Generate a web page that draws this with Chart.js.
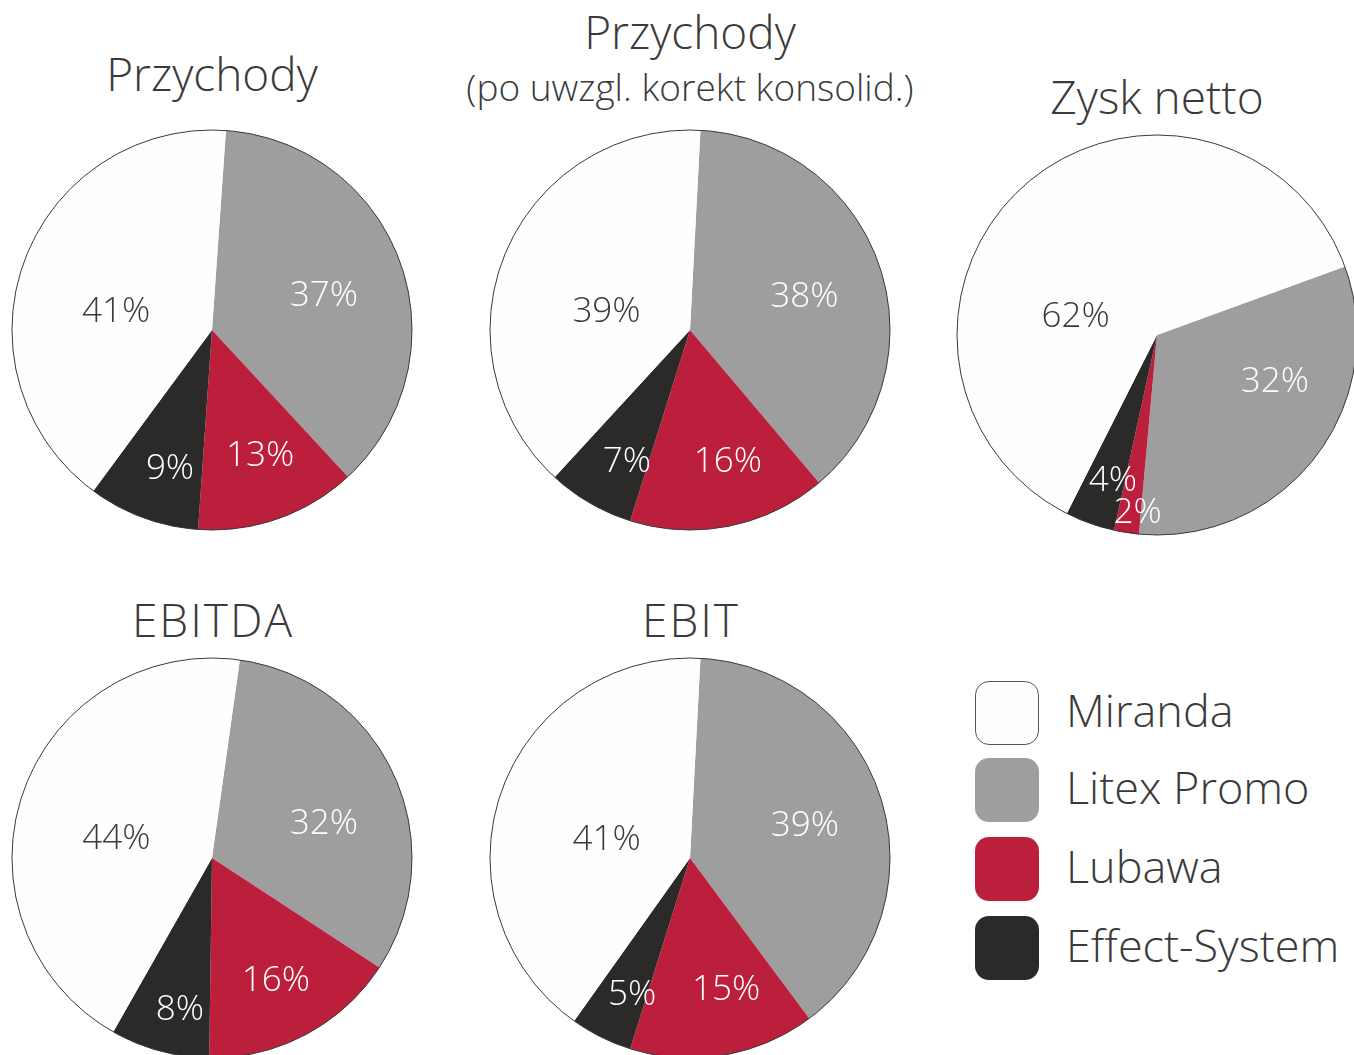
<!DOCTYPE html>
<html>
<head>
<meta charset="utf-8">
<title>Struktura grupy</title>
<script src="https://cdn.jsdelivr.net/npm/chart.js@4.4.1/dist/chart.umd.min.js"></script>
<style>
    html, body { margin: 0; padding: 0; background: #fff; }
    body {
        width: 1354px; height: 1055px; position: relative; overflow: hidden;
        font-family: "Open Sans", "Noto Sans", sans-serif; font-weight: 300; color: #3a3a3a;
    }
    .pie { position: absolute; width: 404px; height: 404px; }
    .title { position: absolute; width: 600px; text-align: center; line-height: 1; white-space: nowrap; }
    .legend-box { position: absolute; width: 64px; height: 64px; border-radius: 14px; box-sizing: border-box; }
    .legend-text { position: absolute; line-height: 1; white-space: nowrap; font-size: 45px; }
</style>
</head>
<body>
<div id="stage"></div>
<script>
// Data
const companies = ['Miranda', 'Litex Promo', 'Lubawa', 'Effect-System'];
const chartTitles = ['Przychody', 'Przychody', 'Zysk netto', 'EBITDA', 'EBIT'];
const chartSubtitles = ['', '(po uwzgl. korekt konsolid.)', '', '', ''];
const miranda = [41, 39, 62, 44, 41];
const litexPromo = [37, 38, 32, 32, 39];
const lubawa = [13, 16, 2, 16, 15];
const effectSystem = [9, 7, 4, 8, 5];

// Colours, in company order
const companyColors = ['#fefefe', '#9d9e9d', '#bb1f3c', '#2b2a29'];
const labelColors = ['#3a3a3a', '#ffffff', '#ffffff', '#ffffff'];

// Where each pie sits and how its labels are nudged (slices drawn Litex, Lubawa, Effect, Miranda)
const pieLayout = [
    { cx: 212, cy: 330, start: 4, titleBase: 91, spacing: 0, place: [[0.59, 1], [0.66, -2], [0.71, -3], [0.49, -8]] },
    { cx: 690, cy: 330, start: 3, titleBase: 49, subBase: 101, spacing: 0, place: [[0.60, 1], [0.67, -5], [0.72, -4], [0.43, -9]] },
    { cx: 1157, cy: 335, start: 70, titleBase: 114, spacing: 0, place: [[0.63, -17], [0.88, -2.5], [0.75, -2.5], [0.42, -34]] },
    { cx: 212, cy: 858, start: 8, titleBase: 637, spacing: 2, place: [[0.59, 6], [0.68, 0], [0.76, -3], [0.49, -6]] },
    { cx: 690, cy: 858, start: 3, titleBase: 637, spacing: 2, place: [[0.60, 0], [0.67, -6], [0.73, -3], [0.43, -5]] }
];

const stage = document.getElementById('stage');

// Thin outline round the whole pie (no lines between slices)
const outlinePlugin = {
    id: 'outline',
    afterDatasetsDraw(chart) {
        const arc = chart.getDatasetMeta(0).data[0];
        if (!arc) return;
        const ctx = chart.ctx;
        ctx.save();
        ctx.beginPath();
        ctx.arc(arc.x, arc.y, arc.outerRadius, 0, Math.PI * 2);
        ctx.strokeStyle = '#3a3a3a';
        ctx.lineWidth = 1;
        ctx.stroke();
        ctx.restore();
    }
};

// Percentage labels inside slices
const percentPlugin = {
    id: 'percent',
    afterDatasetsDraw(chart, args, opts) {
        const ctx = chart.ctx;
        const ds = chart.data.datasets[0];
        ctx.save();
        ctx.font = '300 35px "Open Sans", "Noto Sans", sans-serif';
        ctx.textAlign = 'center';
        ctx.textBaseline = 'middle';
        chart.getDatasetMeta(0).data.forEach((arc, i) => {
            const [frac, shift] = opts.place[i];
            const mid = (arc.startAngle + arc.endAngle) / 2 + shift * Math.PI / 180;
            const r = arc.outerRadius * frac;
            ctx.fillStyle = ds.labelColors[i];
            ctx.fillText(ds.data[i] + '%', arc.x + r * Math.cos(mid), arc.y + r * Math.sin(mid) + 3);
        });
        ctx.restore();
    }
};

function addTitle(text, cx, baseline, size, spacing) {
    const el = document.createElement('div');
    el.className = 'title';
    el.style.fontSize = size + 'px';
    el.style.letterSpacing = spacing + 'px';
    el.style.left = (cx - 300 + spacing / 2) + 'px';
    el.style.top = (baseline - size * 0.888) + 'px';
    el.textContent = text;
    stage.appendChild(el);
}

pieLayout.forEach((p, i) => {
    const box = document.createElement('div');
    box.className = 'pie';
    box.style.left = (p.cx - 202) + 'px';
    box.style.top = (p.cy - 202) + 'px';
    const canvas = document.createElement('canvas');
    canvas.width = 404;
    canvas.height = 404;
    box.appendChild(canvas);
    stage.appendChild(box);

    // clockwise from the top: Litex Promo, Lubawa, Effect-System, Miranda
    const order = [1, 2, 3, 0];
    const series = [miranda, litexPromo, lubawa, effectSystem];

    new Chart(canvas.getContext('2d'), {
        type: 'pie',
        data: {
            labels: order.map(k => companies[k]),
            datasets: [{
                data: order.map(k => series[k][i]),
                backgroundColor: order.map(k => companyColors[k]),
                labelColors: order.map(k => labelColors[k]),
                borderWidth: 0
            }]
        },
        options: {
            responsive: false,
            animation: false,
            rotation: p.start,
            layout: { padding: 2 },
            plugins: {
                legend: { display: false },
                tooltip: { enabled: false },
                percent: { place: p.place }
            }
        },
        plugins: [outlinePlugin, percentPlugin]
    });

    addTitle(chartTitles[i], p.cx, p.titleBase, 46, p.spacing);
    if (chartSubtitles[i]) addTitle(chartSubtitles[i], p.cx, p.subBase, 37, 0);
});

// Legend
const legendTops = [681, 758, 837, 916];
companies.forEach((name, k) => {
    const sq = document.createElement('div');
    sq.className = 'legend-box';
    sq.style.left = '975px';
    sq.style.top = legendTops[k] + 'px';
    sq.style.background = companyColors[k];
    if (k === 0) sq.style.border = '1.5px solid #555';
    stage.appendChild(sq);

    const tx = document.createElement('div');
    tx.className = 'legend-text';
    tx.style.left = '1066px';
    tx.style.top = (legendTops[k] + 46 - 45 * 0.888) + 'px';
    tx.textContent = name;
    stage.appendChild(tx);
});
</script>
</body>
</html>
